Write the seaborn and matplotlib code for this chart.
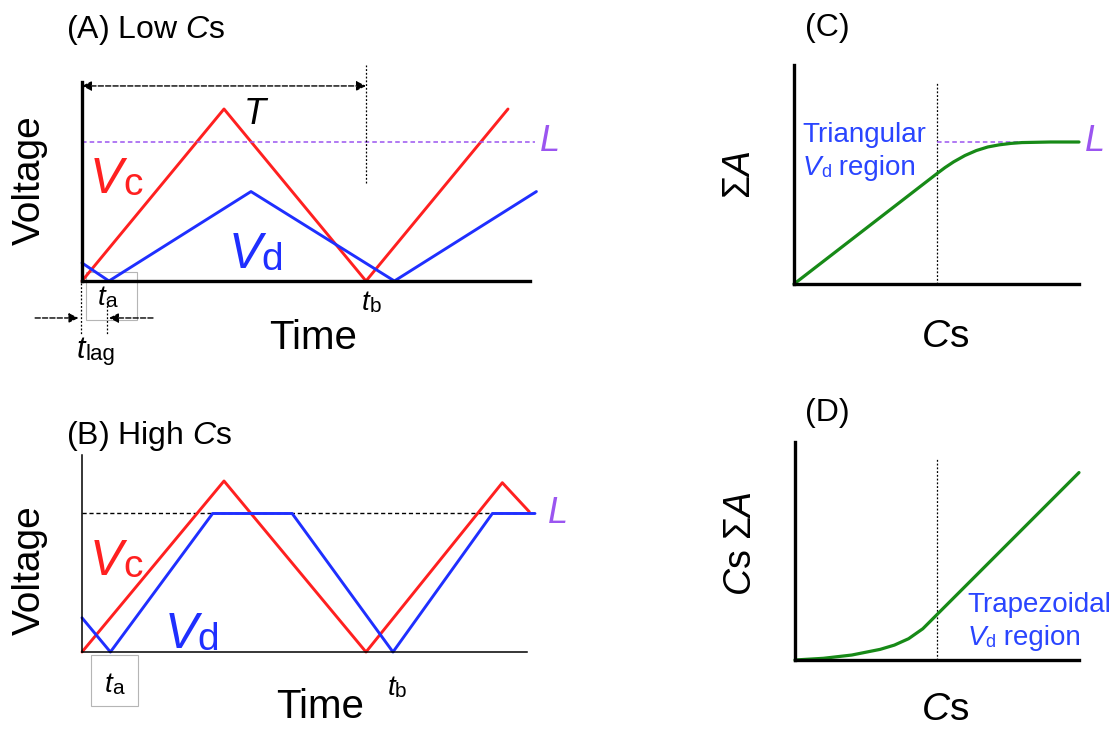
import numpy as np
import pandas as pd
import seaborn as sns
import matplotlib.pyplot as plt

# (A) low Cs: sawtooth Vc and triangular Vd
time_vc_a = [0, 1.0, 2.0, 3.0]
vc_a = [0, 1.0, 0, 1.0]
time_vd_a = [0, 0.19, 1.19, 2.2, 3.2]
vd_a = [0.105, 0, 0.52, 0, 0.52]
level_a = 0.81
period_a = 2.0

# (B) high Cs: Vd clipped at L (trapezoid)
time_vc_b = [0, 1.0, 2.0, 2.96, 3.15]
vc_b = [0, 1.0, 0, 0.99, 0.82]
time_vd_b = [0, 0.2, 0.92, 1.48, 2.19, 2.89, 3.19]
vd_b = [0.2, 0, 0.81, 0.81, 0, 0.81, 0.81]
level_b = 0.81

# (C) sum of A vs Cs
cs_c = [0, 0.1, 0.2, 0.3, 0.4, 0.5, 0.53, 0.56, 0.6, 0.64, 0.68, 0.72, 0.76, 0.8, 0.9, 1.0]
sum_a = [0, 0.155, 0.31, 0.465, 0.62, 0.775, 0.82, 0.86, 0.905, 0.94, 0.965, 0.98, 0.99, 0.996, 1.0, 1.0]
level_c = 1.0

# (D) Cs * sum of A vs Cs
cs_d = [0, 0.1, 0.2, 0.3, 0.35, 0.4, 0.45, 0.5, 0.55, 0.6, 0.7, 0.8, 0.9, 1.0]
cs_sum_a = [0, 0.012, 0.035, 0.075, 0.105, 0.15, 0.22, 0.32, 0.42, 0.52, 0.72, 0.92, 1.12, 1.32]
cs_split = 0.5

RED = "#ff2020"
BLUE = "#1f2fff"
TXT_BLUE = "#2a45ff"
GREEN = "#178a17"
PURPLE = "#9b55f0"

sns.set_style("white")
plt.rcParams["font.family"] = ["Liberation Sans", "DejaVu Sans"]
plt.rcParams["text.color"] = "black"
plt.rcParams["mathtext.fontset"] = "custom"
plt.rcParams["mathtext.rm"] = "Liberation Sans"
plt.rcParams["mathtext.it"] = "Liberation Sans:italic"

W, H = 1116, 729
fig = plt.figure(figsize=(W / 100, H / 100), dpi=100)


def px_axes(l, t, r, b, lw):
    ax = fig.add_axes([l / W, 1 - b / H, (r - l) / W, (b - t) / H])
    ax.set_xticks([])
    ax.set_yticks([])
    ax.spines[["top", "right"]].set_visible(False)
    for s in ["left", "bottom"]:
        ax.spines[s].set_linewidth(lw)
        ax.spines[s].set_color("black")
    ax.patch.set_alpha(0)
    return ax


def chain(ax, x, y, pieces, color="black"):
    # pieces: (text, size, italic)
    txt, size, it = pieces[0]
    prev = ax.text(x, y, txt, fontsize=size, style="italic" if it else "normal",
                   color=color, va="baseline", ha="left", clip_on=False)
    for txt, size, it in pieces[1:]:
        prev = ax.annotate(txt, xy=(1, 0), xycoords=prev, fontsize=size,
                           style="italic" if it else "normal", color=color,
                           va="bottom", ha="left", annotation_clip=False)
    return prev


def arrow(ax, x0, x1, y, style="-|>"):
    ax.annotate("", xy=(x1, y), xytext=(x0, y), annotation_clip=False,
                arrowprops=dict(arrowstyle=style, color="black", lw=1.0, ls="--",
                                mutation_scale=14, shrinkA=0, shrinkB=0))


def vline(ax, x, y0, y1):
    ax.plot([x, x], [y0, y1], color="black", lw=0.9, ls=(0, (1.5, 1.5)), clip_on=False)


# ---------------- panel A ----------------
ax = px_axes(82, 82, 530, 281, 2.4)
ax.set_xlim(0, 448 / 142)
ax.set_ylim(0, 199 / 172)
sns.lineplot(x=time_vc_a, y=vc_a, ax=ax, color=RED, lw=2.1, clip_on=False)
sns.lineplot(x=time_vd_a, y=vd_a, ax=ax, color=BLUE, lw=2.1, clip_on=False)
ax.plot([0, 3.19], [level_a, level_a], color=PURPLE, lw=1.1, ls=(0, (3, 2)), clip_on=False)
ax.text(3.225, level_a, "L", fontsize=26, style="italic", color=PURPLE, va="center", ha="left")
arrow(ax, 0, period_a, 1.134, "<|-|>")
vline(ax, period_a, 0.57, 1.256)
ax.text(1.22, 0.97, "T", fontsize=26, style="italic", va="center", ha="center")
chain(ax, 0.056, 0.51, [("V", 36, True), ("c", 28, False)], RED)
chain(ax, 1.03, 0.076, [("V", 36, True), ("d", 28, False)], BLUE)
ax.add_patch(plt.Rectangle((0.028, -0.227), 0.36, 0.28, fill=False, ec="#b5b5b5",
                           lw=0.8, clip_on=False))
chain(ax, 0.11, -0.14, [("t", 20, True), ("a", 15, False)])
chain(ax, 1.97, -0.17, [("t", 20, True), ("b", 15, False)])
vline(ax, -0.01, -0.01, -0.314)
vline(ax, 0.176, -0.1, -0.314)
arrow(ax, -0.33, -0.025, -0.215)
arrow(ax, 0.5, 0.19, -0.215)
chain(ax, -0.035, -0.45, [("t", 22, True), ("lag", 16, False)])
ax.text(1.63, -0.33, "Time", fontsize=29, ha="center", va="center", clip_on=False)
ax.text(-0.37, 0.587, "Voltage", fontsize=28, rotation=90, ha="center", va="center")
fig.text(66 / W, 1 - 30 / H, r"(A) Low $\mathit{C}$s", fontsize=23, ha="left", va="center")

# ---------------- panel B ----------------
ax = px_axes(82, 455, 527, 652, 1.1)
ax.set_xlim(0, 445 / 142)
ax.set_ylim(0, 197 / 171)
ax.plot([0, 3.13], [level_b, level_b], color="black", lw=1.0, ls=(0, (3, 2)), clip_on=False)
sns.lineplot(x=time_vc_b, y=vc_b, ax=ax, color=RED, lw=2.1, clip_on=False)
sns.lineplot(x=time_vd_b, y=vd_b, ax=ax, color=BLUE, lw=2.1, clip_on=False)
ax.text(3.28, level_b, "L", fontsize=26, style="italic", color=PURPLE, va="center", ha="left")
chain(ax, 0.056, 0.45, [("V", 36, True), ("c", 28, False)], RED)
chain(ax, 0.58, 0.023, [("V", 36, True), ("d", 28, False)], BLUE)
ax.add_patch(plt.Rectangle((0.063, -0.316), 0.33, 0.298, fill=False, ec="#b5b5b5",
                           lw=0.8, clip_on=False))
chain(ax, 0.16, -0.234, [("t", 20, True), ("a", 15, False)])
chain(ax, 2.15, -0.25, [("t", 20, True), ("b", 15, False)])
ax.text(1.68, -0.32, "Time", fontsize=29, ha="center", va="center", clip_on=False)
ax.text(-0.37, 0.48, "Voltage", fontsize=28, rotation=90, ha="center", va="center")
fig.text(66 / W, 1 - 436 / H, r"(B) High $\mathit{C}$s", fontsize=23, ha="left", va="center")

# ---------------- panel C ----------------
ax = px_axes(794, 65, 1079, 284, 2.4)
ax.set_xlim(0, 1)
ax.set_ylim(0, 219 / 142)
vline(ax, cs_split, 0, 1.415)
ax.plot([cs_split, 0.996], [level_c, level_c], color=PURPLE, lw=1.1, ls=(0, (3, 2)), clip_on=False)
sns.lineplot(x=cs_c, y=sum_a, ax=ax, color=GREEN, lw=2.3, clip_on=False)
ax.text(1.02, level_c, "L", fontsize=26, style="italic", color=PURPLE, va="center", ha="left")
ax.text(0.03, 1.0, "Triangular", fontsize=20, color=TXT_BLUE, va="baseline", ha="left")
chain(ax, 0.03, 0.77, [("V", 20, True), ("d", 13, False), (" region", 20, False)], TXT_BLUE)
ax.text(-0.19, 0.77, r"$\Sigma\mathit{A}$", fontsize=27, rotation=90, ha="center", va="center")
ax.text(0.53, -0.37, r"$\mathit{C}$s", fontsize=28, ha="center", va="center", clip_on=False)
fig.text(805 / W, 1 - 28 / H, "(C)", fontsize=23, ha="left", va="center")

# ---------------- panel D ----------------
ax = px_axes(795, 442, 1079, 660, 2.4)
ax.set_xlim(0, 1)
ax.set_ylim(0, 218 / 142)
vline(ax, cs_split, 0, 1.415)
sns.lineplot(x=cs_d, y=cs_sum_a, ax=ax, color=GREEN, lw=2.3, clip_on=False)
ax.text(0.606, 0.34, "Trapezoidal", fontsize=20, color=TXT_BLUE, va="baseline", ha="left")
chain(ax, 0.606, 0.106, [("V", 20, True), ("d", 13, False), (" region", 20, False)], TXT_BLUE)
ax.text(-0.19, 0.82, r"$\mathit{C}$s $\Sigma\mathit{A}$", fontsize=27, rotation=90,
        ha="center", va="center")
ax.text(0.53, -0.35, r"$\mathit{C}$s", fontsize=28, ha="center", va="center", clip_on=False)
fig.text(805 / W, 1 - 413 / H, "(D)", fontsize=23, ha="left", va="center")

fig.savefig("out.png", dpi=100)
